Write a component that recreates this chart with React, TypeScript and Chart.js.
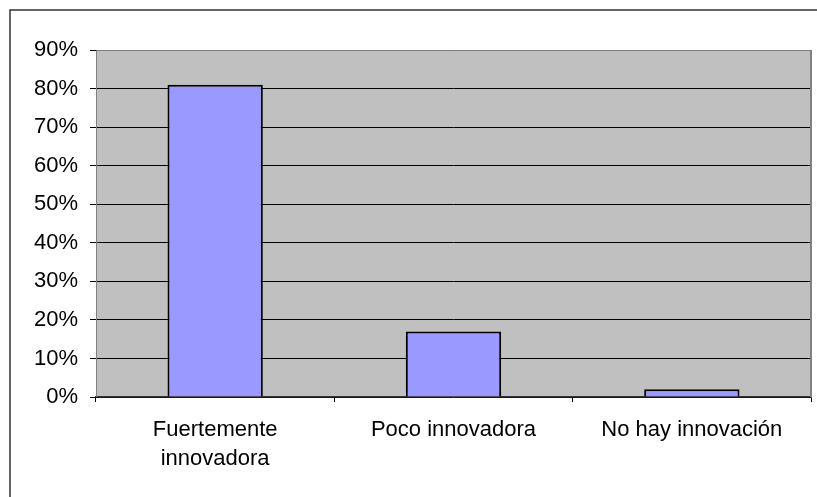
import React, { useEffect, useRef } from "react";
import { Chart, registerables } from "chart.js";

Chart.register(...registerables);

const categories: (string | string[])[] = [
  ["Fuertemente", "innovadora"],
  "Poco innovadora",
  "No hay innovación",
];
const shares: number[] = [81, 17, 2];
const yTicks: number[] = [0, 10, 20, 30, 40, 50, 60, 70, 80, 90];

const FONT = '"Liberation Sans", Arial, sans-serif';

// Gray plot panel with a thin border, plus the outer chart frame.
const framePlugin = {
  id: "frame",
  beforeDraw(chart: any) {
    const { ctx, chartArea } = chart;
    ctx.save();
    ctx.fillStyle = "#c0c0c0";
    ctx.fillRect(
      chartArea.left,
      chartArea.top,
      chartArea.right - chartArea.left,
      chartArea.bottom - chartArea.top
    );
    ctx.restore();
  },
  afterDraw(chart: any) {
    const { ctx, chartArea, width, height } = chart;
    ctx.save();
    ctx.strokeStyle = "#808080";
    ctx.lineWidth = 1;
    ctx.beginPath();
    ctx.moveTo(chartArea.left + 0.5, chartArea.bottom);
    ctx.lineTo(chartArea.left + 0.5, chartArea.top + 0.5);
    ctx.lineTo(chartArea.right - 0.5, chartArea.top + 0.5);
    ctx.stroke();
    ctx.lineWidth = 2;
    ctx.beginPath();
    ctx.moveTo(chartArea.right, chartArea.top);
    ctx.lineTo(chartArea.right, chartArea.bottom);
    ctx.stroke();
    // outer frame
    ctx.strokeStyle = "#333333";
    ctx.lineWidth = 1.5;
    ctx.beginPath();
    ctx.moveTo(10, height);
    ctx.lineTo(10, 10);
    ctx.lineTo(width, 10);
    ctx.stroke();
    ctx.restore();
  },
};

export default function App() {
  const canvasRef = useRef<HTMLCanvasElement | null>(null);

  useEffect(() => {
    if (!canvasRef.current) return;
    const chart = new Chart(canvasRef.current, {
      type: "bar",
      data: {
        labels: categories,
        datasets: [
          {
            data: shares,
            backgroundColor: "#9999ff",
            borderColor: "#000000",
            borderWidth: 2,
            borderSkipped: "bottom",
            barPercentage: 0.4,
            categoryPercentage: 1,
          },
        ],
      },
      options: {
        responsive: false,
        animation: false,
        maintainAspectRatio: false,
        layout: { padding: { top: 50, right: 6, left: 0, bottom: 0 } },
        plugins: {
          legend: { display: false },
          tooltip: { enabled: false },
        },
        scales: {
          x: {
            offset: true,
            afterFit(scale: any) {
              scale.height = 100;
            },
            grid: {
              offset: true,
              drawOnChartArea: false,
              drawTicks: true,
              tickLength: 5,
              color: "#000000",
            },
            border: { display: true, color: "#333333", width: 1.5 },
            ticks: {
              color: "#000000",
              padding: 14,
              maxRotation: 0,
              font: { family: FONT, size: 22, lineHeight: 1.3 },
            },
          },
          y: {
            min: 0,
            max: 90,
            afterFit(scale: any) {
              scale.width = 96;
            },
            afterBuildTicks(scale: any) {
              scale.ticks = yTicks.map((v) => ({ value: v }));
            },
            grid: {
              color: "#000000",
              lineWidth: 1,
              tickLength: 6,
              drawTicks: true,
            },
            border: { display: false },
            ticks: {
              color: "#000000",
              padding: 12,
              font: { family: FONT, size: 22 },
              callback: (v: any) => `${v}%`,
            },
          },
        },
      },
      plugins: [framePlugin],
    });
    return () => chart.destroy();
  }, []);

  return (
    <div
      style={{
        position: "fixed",
        left: 0,
        top: 0,
        width: 817,
        height: 497,
        background: "#ffffff",
      }}
    >
      <canvas ref={canvasRef} width={817} height={497} />
    </div>
  );
}
